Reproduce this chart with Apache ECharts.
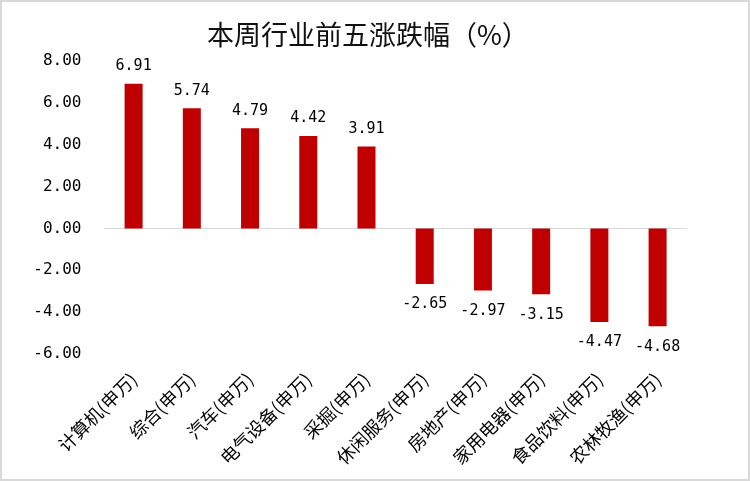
<!DOCTYPE html>
<html><head><meta charset="utf-8">
<script src="https://cdn.jsdelivr.net/npm/echarts@6/dist/echarts.min.js"></script>
<style>html,body{margin:0;padding:0;background:#fff}
#c{width:746px;height:477px;border:2px solid #d9d9d9;background:#fff}</style>
</head><body><div id="c"></div>
<script>
const categories = ['计算机(申万)','综合(申万)','汽车(申万)','电气设备(申万)','采掘(申万)','休闲服务(申万)','房地产(申万)','家用电器(申万)','食品饮料(申万)','农林牧渔(申万)'];
const values = [6.91, 5.74, 4.79, 4.42, 3.91, -2.65, -2.97, -3.15, -4.47, -4.68];
const titleText = '本周行业前五涨跌幅（%）';
const font = '"Noto Sans CJK SC", "Noto Sans", sans-serif';
const mono = '"DejaVu Sans Mono", monospace';
const chart = echarts.init(document.getElementById('c'));
chart.setOption({
  animation:false,
  title:{text:titleText,left:200,top:14,textStyle:{fontFamily:font,fontSize:27,fontWeight:'normal',color:'#111'}},
  grid:{left:102.5,right:61.3,top:59,bottom:125},
  xAxis:[
    {type:'category',data:categories,axisLine:{onZero:true,lineStyle:{color:'#d9d9d9',width:1}},axisTick:{show:false},axisLabel:{show:false}},
    {type:'category',data:categories,position:'bottom',axisLine:{show:false,onZero:false},axisTick:{show:false},
     axisLabel:{rotate:45,interval:0,margin:22,fontFamily:font,fontSize:18,color:'#000'}}
  ],
  yAxis:{type:'value',min:-6,max:8,interval:2,splitLine:{show:false},axisLine:{show:false},axisTick:{show:false},
    axisLabel:{formatter:v=>v.toFixed(2),fontFamily:mono,fontSize:16,color:'#000',margin:23}},
  series:[{type:'bar',xAxisIndex:0,barWidth:18,itemStyle:{color:'#C00000'},
    data:values.map(v=>({value:v,label:{position:v>=0?'top':'bottom',distance:v>=0?10:13}})),
    label:{show:true,formatter:p=>p.value.toFixed(2),fontFamily:mono,fontSize:15,color:'#000'}}]
});
</script></body></html>
